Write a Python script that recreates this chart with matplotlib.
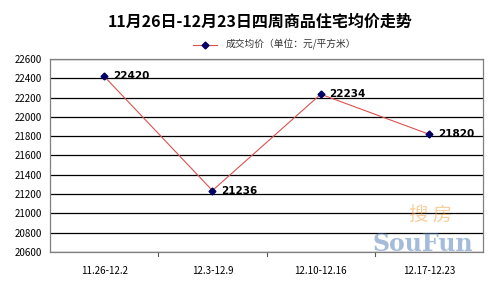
import matplotlib.pyplot as plt

plt.rcParams['font.family'] = ['Noto Sans CJK SC', 'DejaVu Sans']

weeks = ['11.26-12.2', '12.3-12.9', '12.10-12.16', '12.17-12.23']
prices = [22420, 21236, 22234, 21820]

fig = plt.figure(figsize=(4.9, 2.86), dpi=100)
ax = fig.add_axes([0.102, 0.119, 0.884, 0.675])

x = list(range(len(weeks)))
ax.plot(x, prices, color='#d9534f', lw=0.8, marker='D', markersize=3.5,
        markerfacecolor='#000066', markeredgecolor='#000066', label='成交均价（单位：元/平方米）')
for xi, v in zip(x, prices):
    ax.text(xi + 0.08, v, str(v), fontsize=7.5, fontweight='bold', va='center', ha='left',
            family='DejaVu Sans')

ax.set_xlim(-0.5, 3.5)
ax.set_ylim(20600, 22600)
ax.set_yticks(range(20600, 22601, 200))
ax.tick_params(axis='y', length=0, labelsize=7, pad=6)
ax.set_xticks(x)
ax.set_xticklabels(weeks, fontsize=7)
ax.tick_params(axis='x', length=0, pad=10)
for b in [0.5, 1.5, 2.5]:
    ax.plot([b, b], [20600, 20600 - 40], color='#555555', lw=0.8, clip_on=False)
ax.yaxis.grid(True, color='black', lw=0.9)
ax.set_axisbelow(True)
for s in ax.spines.values():
    s.set_color('#808080')
    s.set_linewidth(0.9)

# watermark
ax.text(0.86, 0.04, 'SouFun', transform=ax.transAxes, fontsize=17, fontweight='bold',
        family='DejaVu Serif', color='#4a78b5', alpha=0.5, ha='center', va='center', zorder=5)
ax.text(0.88, 0.19, '搜 房', transform=ax.transAxes, fontsize=14,
        color='#f0a040', alpha=0.5, ha='center', va='center', zorder=5)

fig.text(0.53, 0.925, '11月26日-12月23日四周商品住宅均价走势', ha='center', va='center',
         fontsize=11.5, fontweight='bold')
fig.legend(loc='center', bbox_to_anchor=(0.56, 0.843), frameon=False, fontsize=7,
           handlelength=2.5, borderpad=0, labelcolor='#333333')

fig.savefig('out.png', dpi=100)
